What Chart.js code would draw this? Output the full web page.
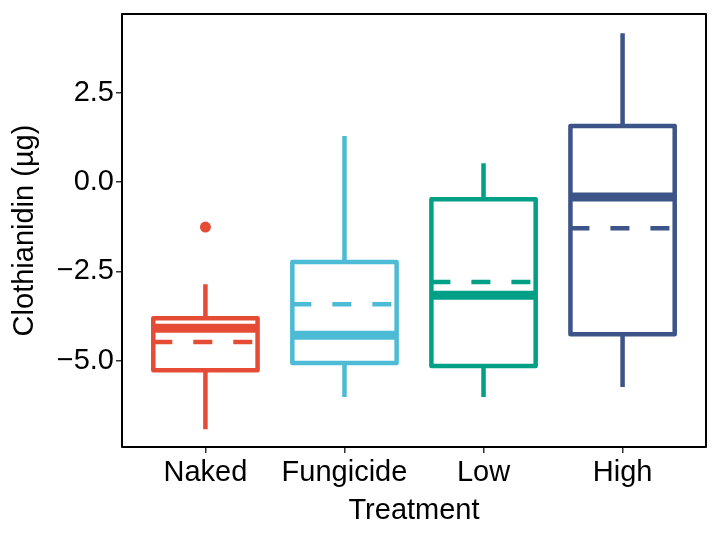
<!DOCTYPE html>
<html>
<head>
<meta charset="utf-8">
<script src="https://cdn.jsdelivr.net/npm/chart.js@4.4.1/dist/chart.umd.min.js"></script>
<style>
  html, body { margin: 0; padding: 0; background: #fff; }
  #wrap { width: 720px; height: 540px; }
</style>
</head>
<body>
<div id="wrap"><canvas id="chart"></canvas></div>
<script>
// Box plot data
const treatments = ['Naked', 'Fungicide', 'Low', 'High'];
const colors = ['#E64B35', '#4DBBD5', '#00A087', '#3C5488'];
const whiskerLow = [-6.92, -6.02, -6.02, -5.74];
const q1 = [-5.27, -5.07, -5.15, -4.26];
const medians = [-4.09, -4.29, -3.17, -0.42];
const means = [-4.48, -3.42, -2.80, -1.29];
const q3 = [-3.81, -2.24, -0.48, 1.57];
const whiskerHigh = [-2.86, 1.29, 0.53, 4.17];
const outliers = [{ x: 1, y: -1.26 }];
const yTicks = [-5, -2.5, 0, 2.5];

const boxWidth = 0.75;
const font = { family: 'Liberation Sans, Arial, sans-serif', size: 29 };

// Draws whiskers, boxes, medians and dashed means using the chart scales
const boxPlugin = {
    id: 'boxes',
    afterDatasetsDraw(chart) {
        const { ctx, scales: { x, y } } = chart;
        ctx.save();
        ctx.lineCap = 'butt';
        treatments.forEach((t, i) => {
            const cx = x.getPixelForValue(i + 1);
            const left = x.getPixelForValue(i + 1 - boxWidth / 2);
            const right = x.getPixelForValue(i + 1 + boxWidth / 2);
            ctx.strokeStyle = colors[i];
            ctx.lineWidth = 4.5;
            ctx.setLineDash([]);
            // whiskers
            ctx.beginPath();
            ctx.moveTo(cx, y.getPixelForValue(q3[i]));
            ctx.lineTo(cx, y.getPixelForValue(whiskerHigh[i]));
            ctx.moveTo(cx, y.getPixelForValue(q1[i]));
            ctx.lineTo(cx, y.getPixelForValue(whiskerLow[i]));
            ctx.stroke();
            // box
            ctx.lineJoin = 'round';
            const top = y.getPixelForValue(q3[i]);
            const bottom = y.getPixelForValue(q1[i]);
            ctx.strokeRect(left, top, right - left, bottom - top);
            // median
            ctx.lineWidth = 9;
            ctx.beginPath();
            ctx.moveTo(left, y.getPixelForValue(medians[i]));
            ctx.lineTo(right, y.getPixelForValue(medians[i]));
            ctx.stroke();
            // mean
            ctx.lineWidth = 4.5;
            ctx.setLineDash([19, 21]);
            ctx.beginPath();
            ctx.moveTo(left, y.getPixelForValue(means[i]));
            ctx.lineTo(right, y.getPixelForValue(means[i]));
            ctx.stroke();
        });
        // panel border
        const a = chart.chartArea;
        ctx.setLineDash([]);
        ctx.strokeStyle = '#000';
        ctx.lineWidth = 2;
        ctx.strokeRect(a.left, a.top, a.right - a.left, a.bottom - a.top);
        ctx.restore();
    }
};

new Chart(document.getElementById('chart'), {
    type: 'scatter',
    data: {
        datasets: [{
            label: 'Outliers',
            data: outliers,
            backgroundColor: colors[0],
            borderWidth: 0,
            pointRadius: 5.5,
            pointHoverRadius: 5.5
        }]
    },
    options: {
        responsive: true,
        maintainAspectRatio: false,
        animation: false,
        events: [],
        layout: { padding: { left: 8, right: 14, top: 14, bottom: 12 } },
        plugins: {
            legend: { display: false },
            tooltip: { enabled: false }
        },
        scales: {
            x: {
                type: 'linear',
                min: 0.4,
                max: 4.6,
                afterBuildTicks: s => { s.ticks = treatments.map((t, i) => ({ value: i + 1 })); },
                afterFit: s => { s.height = 81; s.paddingLeft = 0; s.paddingRight = 0; },
                ticks: {
                    color: '#000',
                    font: font,
                    padding: 3,
                    maxRotation: 0,
                    autoSkip: false,
                    callback: v => treatments[v - 1]
                },
                grid: { drawOnChartArea: false, drawTicks: true, tickLength: 6, color: '#333', lineWidth: 1.5 },
                border: { display: false },
                title: { display: true, text: 'Treatment', color: '#000', font: font, padding: { top: 0, bottom: 0 } }
            },
            y: {
                min: -7.42,
                max: 4.71,
                afterBuildTicks: s => { s.ticks = yTicks.map(v => ({ value: v })); },
                afterFit: s => { s.width = 114; s.paddingTop = 0; s.paddingBottom = 0; },
                ticks: {
                    color: '#000',
                    font: font,
                    padding: 2,
                    callback: v => v.toFixed(1).replace('-', '\u2212')
                },
                grid: { drawOnChartArea: false, drawTicks: true, tickLength: 6, color: '#333', lineWidth: 1.5 },
                border: { display: false },
                title: { display: true, text: 'Clothianidin (µg)', color: '#000', font: font, padding: { top: 0, bottom: 2 } }
            }
        }
    },
    plugins: [boxPlugin]
});
</script>
</body>
</html>
